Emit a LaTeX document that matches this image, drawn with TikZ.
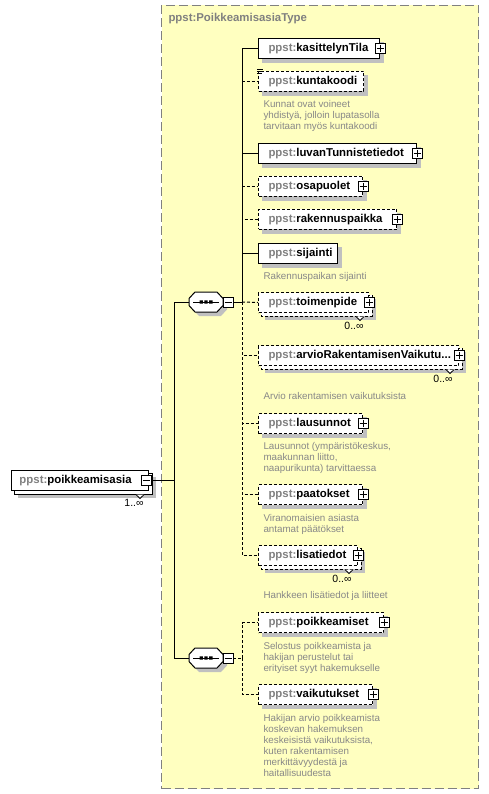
\documentclass[tikz,border=0pt]{standalone}
\usepackage{fontspec}
\setmainfont{Liberation Sans}
\usetikzlibrary{calc,backgrounds}
\definecolor{typefill}{RGB}{255,255,192}
\definecolor{typeline}{RGB}{128,128,128}
\definecolor{pfx}{RGB}{128,128,128}
\definecolor{docc}{RGB}{136,136,136}
\definecolor{shad}{RGB}{192,192,192}
\newcommand\elfont{\fontsize{11.4}{13}\selectfont\bfseries}
\newcommand\docfont{\fontsize{9.8}{11}\selectfont}
\newcommand\multfont{\fontsize{10.5}{12}\selectfont}
\newcommand\ppfx{\textcolor{pfx}{ppst:}}
\newcommand\octo[3]{($(#1)+({#2-17},{#3-3.5})$) -- ($(#1)+({#2-11},{#3-10})$) -- ($(#1)+({#2+11},{#3-10})$) -- ($(#1)+({#2+17},{#3-3.5})$) -- ($(#1)+({#2+17},{#3+3.5})$) -- ($(#1)+({#2+11},{#3+10})$) -- ($(#1)+({#2-11},{#3+10})$) -- ($(#1)+({#2-17},{#3+3.5})$) -- cycle}
\begin{document}
\begin{tikzpicture}[x=1pt,y=-1pt,line width=1pt,
  elem/.style={draw=black,fill=white,anchor=north west,minimum height=20pt,inner xsep=10pt,inner ysep=0pt,align=left,font=\elfont},
  opt/.style={dash pattern=on 3pt off 2pt},
  pm/.style={draw=black,fill=white,minimum size=10pt,inner sep=0pt,line width=0.8pt},
  plusbox/.style={pm,path picture={\draw[line width=0.8pt] ([xshift=-3.5pt]path picture bounding box.center) -- ([xshift=3.5pt]path picture bounding box.center) ([yshift=-3.5pt]path picture bounding box.center) -- ([yshift=3.5pt]path picture bounding box.center);}},
  minusbox/.style={pm,path picture={\draw[line width=0.8pt] ([xshift=-3.5pt]path picture bounding box.center) -- ([xshift=3.5pt]path picture bounding box.center);}},
  doc/.style={anchor=north west,inner sep=0pt,align=left,font=\docfont,text=docc},
  mult/.style={inner sep=0pt,font=\multfont},
  seqnode/.style={minimum width=34pt,minimum height=20pt,inner sep=0pt},
  conn/.style={draw=black,line width=1pt}
]
\useasboundingbox (0,0) rectangle (489,794);

% title
\node[anchor=west,inner sep=0pt,font=\elfont,text=pfx] (typetitle) at (168,19) {ppst:PoikkeamisasiaType};

% root element
\node[elem,inner xsep=8pt,text width=121pt,anchor=north west] (poik) at (11,470) {\ppfx poikkeamisasia};
\node[minusbox] (poikm) at (146,480) {};
\node[mult] (poikmult) at (134,503) {1..∞};

% elements of first sequence
\node[elem,text width=101pt] (kasittelynTila) at (258,38) {\ppfx kasittelynTila};
\node[plusbox] (kasittelynTilap) at (kasittelynTila.east) {};
\node[elem,opt,text width=85pt] (kuntakoodi) at (258,71) {\ppfx kuntakoodi};
\node[doc] (kuntakoodid) at (263,100) {Kunnat ovat voineet\\yhdistyä, jolloin lupatasolla\\tarvitaan myös kuntakoodi};
\node[elem,text width=138pt] (luvan) at (258,143) {\ppfx luvanTunnistetiedot};
\node[plusbox] (luvanp) at (luvan.east) {};
\node[elem,opt,text width=84pt] (osapuolet) at (258,176) {\ppfx osapuolet};
\node[plusbox] (osapuoletp) at (osapuolet.east) {};
\node[elem,opt,text width=118pt] (rakennuspaikka) at (258,209) {\ppfx rakennuspaikka};
\node[plusbox] (rakennuspaikkap) at (rakennuspaikka.east) {};
\node[elem,text width=59pt] (sijainti) at (258,243) {\ppfx sijainti};
\node[doc] (sijaintid) at (263,271.5) {Rakennuspaikan sijainti};
\node[elem,opt,text width=90pt] (toimenpide) at (258,292) {\ppfx toimenpide};
\node[plusbox] (toimenpidep) at (toimenpide.east) {};
\node[mult] (toimenpidem) at (354,326) {0..∞};
\node[elem,opt,text width=180pt] (arvio) at (258,345) {\ppfx arvioRakentamisenVaikutu...};
\node[plusbox] (arviop) at (arvio.east) {};
\node[mult] (arviom) at (443,379) {0..∞};
\node[doc] (arviod) at (263,391.5) {Arvio rakentamisen vaikutuksista};
\node[elem,opt,text width=84pt] (lausunnot) at (258,413) {\ppfx lausunnot};
\node[plusbox] (lausunnotp) at (lausunnot.east) {};
\node[doc] (lausunnotd) at (263,441.5) {Lausunnot (ympäristökeskus,\\maakunnan liitto,\\naapurikunta) tarvittaessa};
\node[elem,opt,text width=84pt] (paatokset) at (258,484) {\ppfx paatokset};
\node[plusbox] (paatoksetp) at (paatokset.east) {};
\node[doc] (paatoksetd) at (263,513.5) {Viranomaisien asiasta\\antamat päätökset};
\node[elem,opt,text width=79pt] (lisatiedot) at (258,545) {\ppfx lisatiedot};
\node[plusbox] (lisatiedotp) at (lisatiedot.east) {};
\node[mult] (lisatiedotm) at (342,579) {0..∞};
\node[doc] (lisatiedotd) at (263,590.5) {Hankkeen lisätiedot ja liitteet};

% elements of second sequence
\node[elem,opt,text width=105pt] (poikkeamiset) at (258,612) {\ppfx poikkeamiset};
\node[plusbox] (poikkeamisetp) at (poikkeamiset.east) {};
\node[doc] (poikkeamisetd) at (263,641.5) {Selostus poikkeamista ja\\hakijan perustelut tai\\erityiset syyt hakemukselle};
\node[elem,opt,text width=94pt] (vaikutukset) at (258,684) {\ppfx vaikutukset};
\node[plusbox] (vaikutuksetp) at (vaikutukset.east) {};
\node[doc] (vaikutuksetd) at (263,713.5) {Hakijan arvio poikkeamista\\koskevan hakemuksen\\keskeisistä vaikutuksista,\\kuten rakentamisen\\merkittävyydestä ja\\haitallisuudesta};

% kuntakoodi icon
\draw[line width=0.8pt] (257,69.5) -- (263,69.5) (257,71.7) -- (262,71.7) (257,73.9) -- (262,73.9);

% sequence compositors
\node[seqnode] (seq1) at (206,302) {};
\draw[fill=white] \octo{seq1}{0}{0};
\draw ($(seq1)+(-13,0)$) -- ($(seq1)+(13,0)$);
\fill ($(seq1)+(-6.5,-1.6)$) rectangle ($(seq1)+(-3.2,1.6)$) ($(seq1)+(-1.6,-1.6)$) rectangle ($(seq1)+(1.6,1.6)$) ($(seq1)+(3.2,-1.6)$) rectangle ($(seq1)+(6.5,1.6)$);
\node[minusbox] (seq1m) at (228,302) {};
\node[seqnode] (seq2) at (206,658) {};
\draw[fill=white] \octo{seq2}{0}{0};
\draw ($(seq2)+(-13,0)$) -- ($(seq2)+(13,0)$);
\fill ($(seq2)+(-6.5,-1.6)$) rectangle ($(seq2)+(-3.2,1.6)$) ($(seq2)+(-1.6,-1.6)$) rectangle ($(seq2)+(1.6,1.6)$) ($(seq2)+(3.2,-1.6)$) rectangle ($(seq2)+(6.5,1.6)$);
\node[minusbox] (seq2m) at (228,658) {};

% notches of repeated elements
\foreach \n in {toimenpide,arvio,lisatiedot,poik}{
  \filldraw[fill=white,line width=0.8pt] ($(\n.south east)+(-13,3.6)$) -- ($(\n.south east)+(-9,7.5)$) -- ($(\n.south east)+(-5,3.6)$);
}

% connectors
\coordinate (j0) at (174,480);
\coordinate (j1) at (242,302);
\coordinate (j2) at (242,658);
\draw[conn] (poikm.east) -- (j0);
\draw[conn] (j0) |- (seq1.west);
\draw[conn] (j0) |- (seq2.west);
\draw[conn] (seq1m.east) -- (j1);
\draw[conn] (j1) |- (kasittelynTila.west);
\draw[conn,opt] (j1) |- (kuntakoodi.west);
\draw[conn] (j1) |- (luvan.west);
\draw[conn,opt] (j1) |- (osapuolet.west);
\draw[conn,opt] (j1) |- (rakennuspaikka.west);
\draw[conn] (j1) |- (sijainti.west);
\draw[conn,opt] (j1) -- (toimenpide.west);
\draw[conn,opt] (j1) |- (arvio.west);
\draw[conn,opt] (j1) |- (lausunnot.west);
\draw[conn,opt] (j1) |- (paatokset.west);
\draw[conn,opt] (j1) |- (lisatiedot.west);
\draw[conn,opt] (seq2m.east) -- (j2);
\draw[conn,opt] (j2) |- (poikkeamiset.west);
\draw[conn,opt] (j2) |- (vaikutukset.west);

% background: type box, shadows, back copies
\begin{scope}[on background layer]
\node[draw=typeline,fill=typefill,dash pattern=on 9pt off 4pt,line width=1pt,minimum width=317pt,minimum height=783pt,anchor=north west,inner sep=0pt] (typebox) at (161,5) {};
\foreach \n in {kasittelynTila,kuntakoodi,luvan,osapuolet,rakennuspaikka,sijainti,lausunnot,paatokset,poikkeamiset,vaikutukset}{
  \fill[shad] ($(\n.north west)+(4,4)$) rectangle ($(\n.south east)+(4,4)$);
}
\foreach \n in {toimenpide,arvio,lisatiedot}{
  \fill[shad] ($(\n.north west)+(7,7)$) rectangle ($(\n.south east)+(7,7)$);
  \filldraw[fill=white,opt] ($(\n.north west)+(3,3)$) rectangle ($(\n.south east)+(3,3)$);
}
\fill[shad] ($(poik.north west)+(7,7)$) rectangle ($(poik.south east)+(7,7)$);
\filldraw[fill=white] ($(poik.north west)+(3,3)$) rectangle ($(poik.south east)+(3,3)$);
\fill[shad] \octo{seq1}{4}{4};
\fill[shad] \octo{seq2}{4}{4};
\end{scope}
\end{tikzpicture}
\end{document}
